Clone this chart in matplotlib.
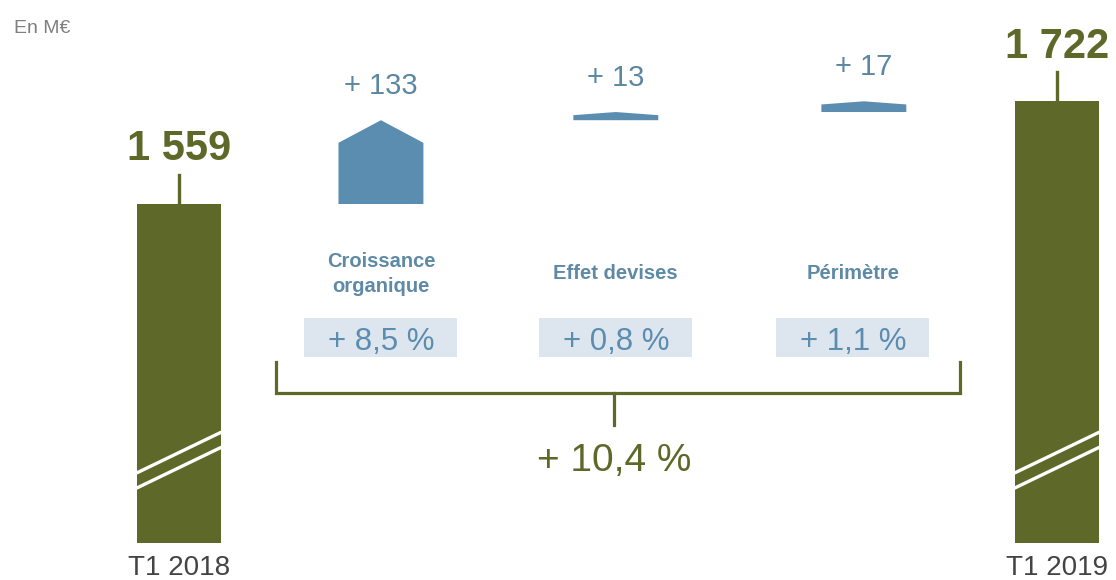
import matplotlib.pyplot as plt
import matplotlib.transforms as mtransforms
from matplotlib.patches import Polygon, Rectangle
from matplotlib.lines import Line2D

plt.rcParams['font.family'] = ['Liberation Sans', 'DejaVu Sans']

# =========================
# DATA
# =========================

periods = ["T1 2018", "T1 2019"]
totals = [1559, 1722]
effects = ["Croissance\norganique", "Effet devises", "Périmètre"]
effect_values = [133, 13, 17]
effect_pct = ["+ 8,5 %", "+ 0,8 %", "+ 1,1 %"]
total_pct = "+ 10,4 %"
unit = "En M€"

# =========================
# LAYOUT / STYLE
# =========================

W, H = 1116, 580
total_x = [0, 4]
effect_x = [0.92, 1.99, 3.12]
label_x = [0.92, 1.99, 3.07]
bar_w = 0.387
base = 1021          # where the (broken) total bars start

olive = '#5e6828'
blue = '#5b8db0'
blue_txt = '#5b87a3'
box_bg = '#dde6ee'

fig = plt.figure(figsize=(W / 100, H / 100), dpi=100)
ax = fig.add_axes([0, 0, 1, 1])
ax.set_xlim(-0.8155, 4.2688)
ax.set_ylim(962.2, 1882.8)
ax.axis('off')

xdata_yaxes = mtransforms.blended_transform_factory(ax.transData, ax.transAxes)


def fy(py):
    return 1 - py / H


def fx(px):
    return px / W


# =========================
# TOTAL BARS
# =========================

ax.bar(total_x, [t - base for t in totals], bottom=base, width=bar_w,
       color=olive, zorder=2)

for x, t, lbl in zip(total_x, totals, periods):
    ax.plot([x, x], [t, t + 46], color=olive, lw=2.4, zorder=2)
    ax.annotate(f"{t:,}".replace(",", " "), (x, t), xytext=(0, 31.5),
                textcoords='offset points', ha='center', va='baseline',
                fontsize=30, fontweight='bold', color=olive)
    # axis break marks
    for y0, y1 in [(1132, 1197), (1108, 1173)]:
        ax.plot([x - bar_w / 2, x + bar_w / 2], [y0, y1], color='white',
                lw=2.4, zorder=3, solid_capstyle='butt')
    ax.text(x, fy(575), lbl, transform=xdata_yaxes, ha='center',
            va='baseline', fontsize=20, color='#444444')

# =========================
# EFFECT BLOCKS (waterfall)
# =========================

start = totals[0]
for x, v in zip(effect_x, effect_values):
    end = start + v
    tip = max(0.27 * v, 5)
    pts = [(x - bar_w / 2, start), (x + bar_w / 2, start),
           (x + bar_w / 2, end - tip), (x, end), (x - bar_w / 2, end - tip)]
    ax.add_patch(Polygon(pts, closed=True, facecolor=blue, edgecolor='none',
                         zorder=2))
    ax.annotate(f"+ {v}", (x, end), xytext=(0, 19), textcoords='offset points',
                ha='center', va='baseline', fontsize=21, color=blue_txt)
    start = end

# category labels + percentage boxes
for x, name, pct in zip(label_x, effects, effect_pct):
    ax.text(x, fy(274), name, transform=xdata_yaxes, ha='center', va='center',
            fontsize=14.5, fontweight='bold', color='#5e8aa5', linespacing=1.4)
    ax.add_patch(Rectangle((x - 0.3485, fy(357)), 0.697, 39 / H,
                           transform=xdata_yaxes, facecolor=box_bg,
                           edgecolor='none', zorder=1))
    ax.text(x, fy(350), pct, transform=xdata_yaxes, ha='center',
            va='baseline', fontsize=22.5, color=blue, zorder=2)

# =========================
# BRACKET + TOTAL GROWTH
# =========================

bracket = [
    ([276, 276, 960, 960], [362, 393, 393, 362]),
    ([614, 614], [393, 425]),
]
for xs, ys in bracket:
    fig.add_artist(Line2D([fx(v) for v in xs], [fy(v) for v in ys],
                          color=olive, lw=2.3, transform=fig.transFigure,
                          solid_joinstyle='miter'))

fig.text(fx(614), fy(471), total_pct, ha='center', va='baseline',
         fontsize=28, color=olive)

fig.text(fx(14), fy(33), unit, ha='left', va='baseline', fontsize=14,
         color='#7f7f7f')

fig.savefig("out.png", dpi=100)
